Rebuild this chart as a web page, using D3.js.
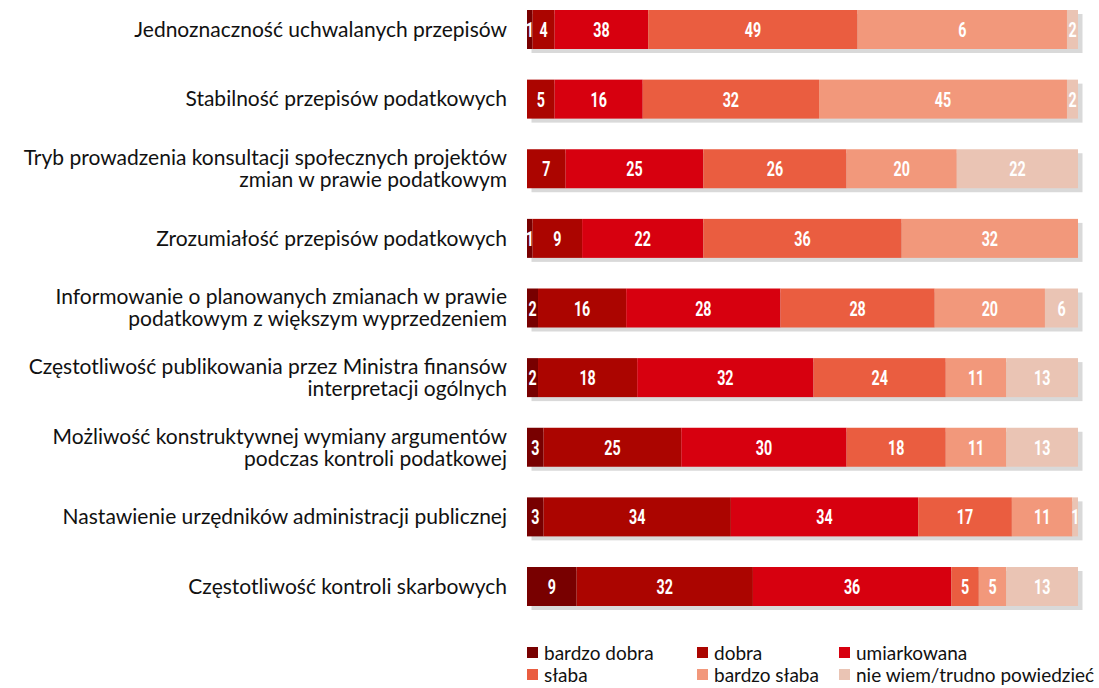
<!DOCTYPE html>
<html>
<head>
<meta charset="utf-8">
<script src="https://cdn.jsdelivr.net/npm/d3@7"></script>
<style>
  body { margin: 0; background: #fff; }
  svg text { font-family: Lato, "Open Sans", sans-serif; }
</style>
</head>
<body>
<div id="chartContainer"></div>
<script>
// kategorie (z podziałem na wiersze)
const categories = [
    "Jednoznaczność uchwalanych przepisów",
    "Stabilność przepisów podatkowych",
    "Tryb prowadzenia konsultacji społecznych projektów\nzmian w prawie podatkowym",
    "Zrozumiałość przepisów podatkowych",
    "Informowanie o planowanych zmianach w prawie\npodatkowym z większym wyprzedzeniem",
    "Częstotliwość publikowania przez Ministra finansów\ninterpretacji ogólnych",
    "Możliwość konstruktywnej wymiany argumentów\npodczas kontroli podatkowej",
    "Nastawienie urzędników administracji publicznej",
    "Częstotliwość kontroli skarbowych"
];

const seriesNames = ["bardzo dobra", "dobra", "umiarkowana", "słaba", "bardzo słaba", "nie wiem/trudno powiedzieć"];
const seriesColors = ["#780000", "#ab0500", "#d7000f", "#ea5d40", "#f2987b", "#eac4b4"];

// udziały (%) dla każdej kategorii
const bardzoDobra = [1, 0, 0, 1, 2, 2, 3, 3, 9];
const dobra       = [4, 5, 7, 9, 16, 18, 25, 34, 32];
const umiarkowana = [17, 16, 25, 22, 28, 32, 30, 34, 36];
const slaba       = [38, 32, 26, 36, 28, 24, 18, 17, 5];
const bardzoSlaba = [38, 45, 20, 32, 20, 11, 11, 11, 5];
const nieWiem     = [2, 2, 22, 0, 6, 13, 13, 1, 13];

// etykiety wydrukowane w pierwszym wierszu (różnią się od szerokości w oryginale)
const row1Labels = [1, 4, 38, 49, 6, 2];

const seriesValues = [bardzoDobra, dobra, umiarkowana, slaba, bardzoSlaba, nieWiem];

const width = 1099, height = 688;

const svg = d3.select("#chartContainer")
    .append("svg")
    .attr("width", width)
    .attr("height", height);

const rows = categories.map((c, i) => {
    const r = { category: c, index: i };
    seriesNames.forEach((s, j) => r[s] = seriesValues[j][i]);
    return r;
});

const stacked = d3.stack().keys(seriesNames)(rows);

const x = d3.scaleLinear().domain([0, 100]).range([527, 1078]);
const y = d3.scaleBand()
    .domain(categories)
    .range([10, 606])
    .paddingInner(0.44)
    .paddingOuter(0);

// cienie pod paskami
svg.append("g")
    .selectAll("rect")
    .data(rows)
    .join("rect")
    .attr("x", x(0) + 4.5)
    .attr("y", d => y(d.category) + 4)
    .attr("width", x(100) - x(0))
    .attr("height", y.bandwidth())
    .attr("fill", "#d9d9d9");

// segmenty
const layer = svg.append("g")
    .selectAll("g")
    .data(stacked)
    .join("g")
    .attr("fill", (d, i) => seriesColors[i]);

layer.selectAll("rect")
    .data(d => d.filter(p => p[1] > p[0]))
    .join("rect")
    .attr("x", p => x(p[0]))
    .attr("y", p => y(p.data.category))
    .attr("width", p => x(p[1]) - x(p[0]))
    .attr("height", y.bandwidth());

// wartości w segmentach (wąski krój - ściśnięty w poziomie)
layer.each(function (s, si) {
    d3.select(this).selectAll("text")
        .data(s.filter(p => p[1] > p[0]))
        .join("text")
        .attr("transform", p => `translate(${(x(p[0]) + x(p[1])) / 2},${y(p.data.category) + y.bandwidth() / 2}) scale(0.68,1)`)
        .attr("dy", "0.36em")
        .attr("text-anchor", "middle")
        .style("font-family", "Roboto, Lato, sans-serif")
        .style("font-weight", "700")
        .style("font-size", "21px")
        .style("fill", "#fff")
        .text(p => p.data.index === 0 ? row1Labels[si] : p[1] - p[0]);
});

// etykiety kategorii
const labels = svg.append("g")
    .selectAll("text")
    .data(categories)
    .join("text")
    .attr("text-anchor", "end")
    .style("font-size", "21px")
    .style("fill", "#111");

labels.each(function (c) {
    const lines = c.split("\n");
    const cy = y(c) + y.bandwidth() / 2;
    const lh = 22;
    d3.select(this).selectAll("tspan")
        .data(lines)
        .join("tspan")
        .attr("x", 507)
        .attr("y", (l, k) => cy + (k - (lines.length - 1) / 2) * lh)
        .attr("dy", "0.35em")
        .text(l => l);
});

// legenda
const legendCols = [527, 697, 839];
const legend = svg.append("g")
    .selectAll("g")
    .data(seriesNames)
    .join("g")
    .attr("transform", (d, i) => `translate(${legendCols[i % 3]},${653 + Math.floor(i / 3) * 22})`);

legend.append("rect")
    .attr("x", 0)
    .attr("y", -6)
    .attr("width", 11)
    .attr("height", 11)
    .attr("fill", (d, i) => seriesColors[i]);

legend.append("text")
    .attr("x", 17)
    .attr("y", 0)
    .attr("dy", "0.35em")
    .style("font-size", "19px")
    .style("fill", "#111")
    .text(d => d);
</script>
</body>
</html>
